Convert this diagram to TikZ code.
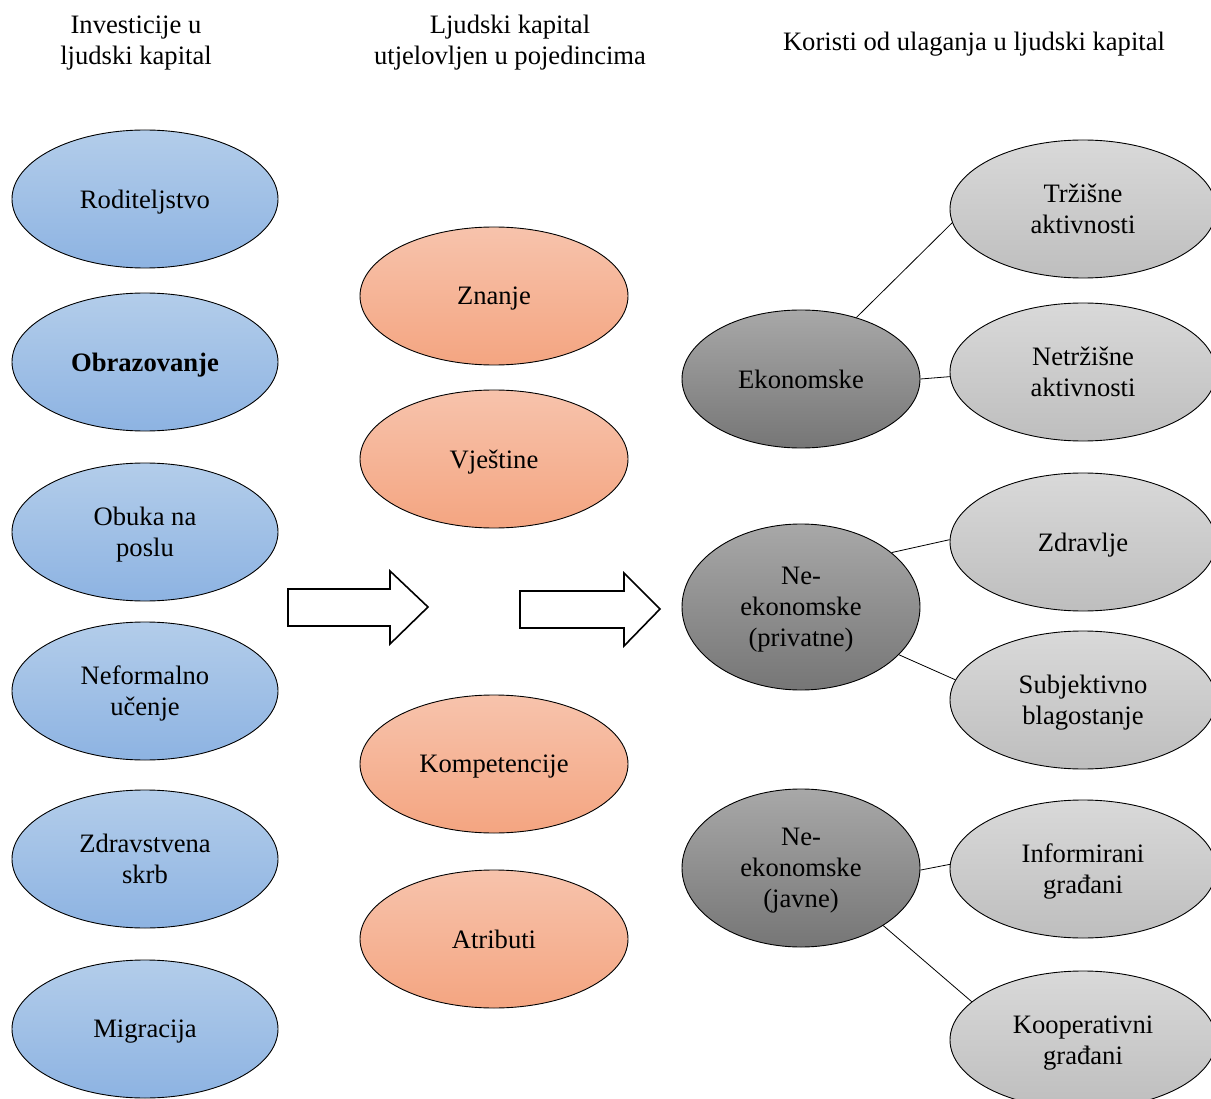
\documentclass[tikz,border=0pt]{standalone}
\usepackage{fontspec}
\setmainfont{Liberation Serif}
\usetikzlibrary{shapes.geometric}
\definecolor{blueT}{HTML}{B3CDEA}
\definecolor{blueB}{HTML}{8DB3E2}
\definecolor{orT}{HTML}{F7C3AC}
\definecolor{orB}{HTML}{F4A581}
\definecolor{dkT}{HTML}{A8A8A8}
\definecolor{dkB}{HTML}{767676}
\definecolor{ltT}{HTML}{D9D9D9}
\definecolor{ltB}{HTML}{BEBEBE}
\tikzset{
  ell/.style={ellipse, draw=black, line width=0.9pt, inner sep=0pt, align=center,
    text depth=0pt, font=\fontsize{26.6}{31}\selectfont},
  inv/.style={ell, minimum width=266pt, minimum height=138pt, top color=blueT, bottom color=blueB},
  hum/.style={ell, minimum width=268pt, minimum height=138pt, top color=orT, bottom color=orB},
  dark/.style={ell, minimum width=238pt, top color=dkT, bottom color=dkB},
  light/.style={ell, minimum width=266pt, minimum height=138pt, top color=ltT, bottom color=ltB},
  title/.style={align=center, text depth=0pt, font=\fontsize{26.6}{31}\selectfont},
  link/.style={draw=black, line width=0.8pt},
  blockarrow/.style={draw=black, line width=1.6pt, fill=white, line join=miter}
}
\begin{document}
\begin{tikzpicture}[x=1pt,y=-1pt]
\useasboundingbox (0,0) rectangle (1211,1099);
\clip (0,0) rectangle (1211,1099);
\fill[white] (0,0) rectangle (1211,1099);
% titles
\node[title] (t1) at (136,40) {Investicije u\\ljudski kapital};
\node[title] (t2) at (510,40) {Ljudski kapital\\utjelovljen u pojedincima};
\node[title] (t3) at (974,41) {Koristi od ulaganja u ljudski kapital};
% left column
\node[inv] (rod) at (145,199) {Roditeljstvo};
\node[inv] (obr) at (145,362) {\bfseries Obrazovanje};
\node[inv] (obu) at (145,532) {Obuka na\\poslu};
\node[inv] (nef) at (145,691) {Neformalno\\učenje};
\node[inv] (zdr) at (145,859) {Zdravstvena\\skrb};
\node[inv] (mig) at (145,1029) {Migracija};
% middle column
\node[hum] (zna) at (494,296) {Znanje};
\node[hum] (vje) at (494,459) {Vještine};
\node[hum] (kom) at (494,764) {Kompetencije};
\node[hum] (atr) at (494,939) {Atributi};
% dark
\node[dark, minimum height=138pt] (eko) at (801,379) {Ekonomske};
\node[dark, minimum height=166pt] (pri) at (801,607) {Ne-\\ekonomske\\(privatne)};
\node[dark, minimum height=158pt] (jav) at (801,868) {Ne-\\ekonomske\\(javne)};
% light
\node[light] (trz) at (1083,209) {Tržišne\\aktivnosti};
\node[light] (net) at (1083,372) {Netržišne\\aktivnosti};
\node[light] (zdv) at (1083,542) {Zdravlje};
\node[light] (sub) at (1083,700) {Subjektivno\\blagostanje};
\node[light] (inf) at (1083,869) {Informirani\\građani};
\node[light] (koo) at (1083,1040) {Kooperativni\\građani};
% links
\draw[link] (eko.48) -- (trz.186);
\draw[link] (eko.0) -- (net.182);
\draw[link] (pri.31) -- (zdv.179);
\draw[link] (pri.-26) -- (sub.171);
\draw[link] (jav.-1) -- (inf.178);
\draw[link] (jav.-35) -- (koo.161);
% block arrows
\draw[blockarrow] (288,589) -- (390,589) -- (390,571) -- (428,607) -- (390,644) -- (390,626) -- (288,626) -- cycle;
\draw[blockarrow] (520,591) -- (624,591) -- (624,573) -- (660,609) -- (624,646) -- (624,628) -- (520,628) -- cycle;
\end{tikzpicture}
\end{document}
